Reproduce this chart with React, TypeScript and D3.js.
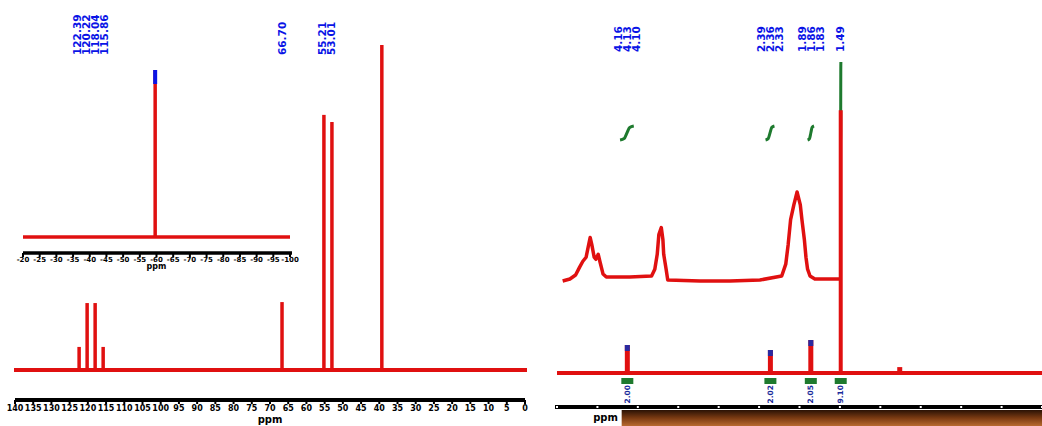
import React from 'react';
import * as d3 from 'd3';

const W = 1042;
const H = 426;

// ---- Left panel: 13C spectrum (ppm, relative intensity) ----
const cPeaks = [
  { ppm: 122.4, h: 7.1 },
  { ppm: 120.2, h: 20.6 },
  { ppm: 118.0, h: 20.6 },
  { ppm: 115.8, h: 7.1 },
  { ppm: 66.7, h: 20.9 },
  { ppm: 55.2, h: 78.5 },
  { ppm: 53.0, h: 76.3 },
  { ppm: 39.3, h: 100 },
];
const cLabels = [
  { group: 119.1, texts: ['122.39', '120.22', '118.04', '115.86'] },
  { group: 66.7, texts: ['66.70'] },
  { group: 54.4, texts: ['55.21', '53.01'] },
];
const cTicks = d3.range(140, -0.1, -5);

// ---- Left inset: 19F spectrum ----
const fPeaks = [{ ppm: -59.6, h: 100 }];
const fTicks = d3.range(-20, -100.1, -5);

// ---- Right panel: 1H spectrum ----
const hPeaks = [
  { ppm: 4.13, h: 9 },
  { ppm: 2.36, h: 7.4 },
  { ppm: 1.86, h: 10.6 },
  { ppm: 1.49, h: 84.5 },
  { ppm: 0.76, h: 1.9 },
];
const hMarked = [4.13, 2.36, 1.86];
const hLabels = [
  { group: 4.13, texts: ['4.16', '4.13', '4.10'] },
  { group: 2.36, texts: ['2.39', '2.36', '2.33'] },
  { group: 1.86, texts: ['1.89', '1.86', '1.83'] },
  { group: 1.49, texts: ['1.49'] },
];
const hIntegrals = [
  { from: 4.22, to: 4.05, value: 2.0, height: 14 },
  { from: 2.42, to: 2.31, value: 2.0, height: 14 },
  { from: 1.90, to: 1.82, value: 2.0, height: 14 },
  { from: 1.492, to: 1.488, value: 9.0, height: 78 },
];
const hIntLabels = [
  { ppm: 4.13, text: '2.00' },
  { ppm: 2.36, text: '2.02' },
  { ppm: 1.86, text: '2.05' },
  { ppm: 1.49, text: '9.10' },
];
const hTicks = d3.range(5, -1.01, -0.5);

// expanded trace (ppm, intensity)
const hExpPpm = [4.93, 4.84, 4.77, 4.72, 4.68, 4.64, 4.62, 4.59, 4.57, 4.54, 4.52, 4.49, 4.47, 4.43, 4.39, 4.1,
  3.83, 3.79, 3.76, 3.74, 3.71, 3.69, 3.68, 3.65, 3.63, 3.23, 2.86, 2.49, 2.22, 2.17, 2.14, 2.11, 2.07, 2.03,
  1.99, 1.97, 1.94, 1.92, 1.9, 1.87, 1.81, 1.5];
const hExpInt = [0, 2.2, 6.7, 15.6, 22.2, 26.7, 35.6, 48.9, 41.1, 26.7, 24.4, 30, 22.2, 7.8, 4.4, 4.4,
  5.6, 13.3, 30, 52.2, 60, 46.7, 30, 13.3, 1.1, 0, 0, 1.1, 5.6, 18.9, 41.1, 68.9, 85.6, 100,
  85.6, 68.9, 46.7, 26.7, 13.3, 5.6, 2.2, 2.2];

const RED = '#e01010';
const BLUE = '#0a14e6';
const GREEN = '#1e7a2e';
const FONT = 'DejaVu Sans, sans-serif';

export default function App() {
  // scales
  const xC = d3.scaleLinear().domain([140, 0]).range([15, 525]);
  const yC = d3.scaleLinear().domain([0, 100]).range([370, 45]);
  const xF = d3.scaleLinear().domain([-20, -100]).range([23, 290]);
  const yF = d3.scaleLinear().domain([0, 100]).range([237, 70]);
  const xH = d3.scaleLinear().domain([5, -1]).range([557, 1042]);
  const yH = d3.scaleLinear().domain([0, 100]).range([373, 62]);
  const yE = d3.scaleLinear().domain([0, 100]).range([281, 192]);

  const expLine = d3.line<number>()
    .x((_, i) => xH(hExpPpm[i]))
    .y((d) => yE(d));

  const intPath = (it: typeof hIntegrals[0]) => {
    const base = 140;
    const pts: [number, number][] = [
      [xH(it.from), base],
      [xH(it.from + (it.to - it.from) * 0.3), base - it.height * 0.1],
      [xH(it.from + (it.to - it.from) * 0.5), base - it.height * 0.5],
      [xH(it.from + (it.to - it.from) * 0.7), base - it.height * 0.9],
      [xH(it.to), base - it.height],
    ];
    return d3.line().curve(d3.curveMonotoneX)(pts) || '';
  };

  const labelEls = (
    groups: { group: number; texts: string[] }[],
    scale: d3.ScaleLinear<number, number>,
    yBottom: number,
    fs: number,
  ) =>
    groups.flatMap((g, gi) =>
      g.texts.map((t, i) => {
        const x = scale(g.group) + (i - (g.texts.length - 1) / 2) * 9;
        return (
          <text
            key={`${gi}-${i}`}
            transform={`translate(${x},${yBottom}) rotate(-90)`}
            dy="0.35em"
            fontSize={fs}
            fontWeight="bold"
            fill={BLUE}
            fontFamily={FONT}
          >
            {t}
          </text>
        );
      }),
    );

  return (
    <svg width={W} height={H} style={{ position: 'absolute', left: 0, top: 0, background: '#fff' }}>
      <defs>
        <linearGradient id="brown" x1="0" y1="0" x2="0" y2="1">
          <stop offset="0" stopColor="#2a1205" />
          <stop offset="0.5" stopColor="#7a3a12" />
          <stop offset="1" stopColor="#b86a30" />
        </linearGradient>
      </defs>
      <rect width={W} height={H} fill="#fff" />

      {/* ===== LEFT PANEL ===== */}
      {labelEls(cLabels, xC, 55, 10.5)}

      {/* inset 19F */}
      <line x1={xF.range()[0]} x2={xF.range()[1]} y1={yF(0)} y2={yF(0)} stroke={RED} strokeWidth={3.5} />
      {fPeaks.map((p, i) => (
        <g key={i}>
          <line x1={xF(p.ppm)} x2={xF(p.ppm)} y1={yF(0)} y2={yF(p.h)} stroke={RED} strokeWidth={3.5} />
          <line x1={xF(p.ppm)} x2={xF(p.ppm)} y1={yF(p.h)} y2={yF(p.h) + 14} stroke={BLUE} strokeWidth={4} />
        </g>
      ))}
      <line x1={xF.range()[0]} x2={xF.range()[1] + 2} y1={253} y2={253} stroke="#000" strokeWidth={3.5} />
      {fTicks.map((t) => (
        <g key={t}>
          <line x1={xF(t)} x2={xF(t)} y1={253} y2={257} stroke="#000" strokeWidth={2} />
          <text x={xF(t)} y={262} textAnchor="middle" fontSize={7} fontWeight="bold" fontFamily={FONT}>
            {t}
          </text>
        </g>
      ))}
      <text x={xF(-60)} y={269} textAnchor="middle" fontSize={8} fontWeight="bold" fontFamily={FONT}>ppm</text>

      {/* main 13C */}
      <line x1={xC.range()[0] - 1} x2={xC.range()[1] + 2} y1={yC(0)} y2={yC(0)} stroke={RED} strokeWidth={4} />
      {cPeaks.map((p, i) => (
        <line key={i} x1={xC(p.ppm)} x2={xC(p.ppm)} y1={yC(0)} y2={yC(p.h)} stroke={RED} strokeWidth={3.5} />
      ))}
      <line x1={xC.range()[0]} x2={xC.range()[1]} y1={400} y2={400} stroke="#000" strokeWidth={4} />
      {cTicks.map((t) => (
        <g key={t}>
          <line x1={xC(t)} x2={xC(t)} y1={400} y2={404} stroke="#000" strokeWidth={2} />
          <text x={xC(t)} y={411} textAnchor="middle" fontSize={8} fontWeight="bold" fontFamily={FONT}>
            {t}
          </text>
        </g>
      ))}
      <text x={xC(70)} y={423} textAnchor="middle" fontSize={10} fontWeight="bold" fontFamily={FONT}>ppm</text>

      {/* ===== RIGHT PANEL ===== */}
      {labelEls(hLabels, xH, 52, 10.5)}

      {/* integral curves */}
      {hIntegrals.map((it, i) => (
        <path key={i} d={intPath(it)} fill="none" stroke={GREEN} strokeWidth={3} />
      ))}

      {/* expanded trace */}
      <path d={expLine(hExpInt) || ''} fill="none" stroke={RED} strokeWidth={3.5} strokeLinejoin="round" />

      {/* main 1H */}
      <line x1={xH.range()[0]} x2={xH.range()[1]} y1={yH(0)} y2={yH(0)} stroke={RED} strokeWidth={4} />
      {hPeaks.map((p, i) => (
        <line key={i} x1={xH(p.ppm)} x2={xH(p.ppm)} y1={yH(0)} y2={yH(p.h)} stroke={RED}
          strokeWidth={p.h > 50 ? 4 : 5} />
      ))}
      {hMarked.map((ppm, i) => {
        const pk = hPeaks.find((p) => p.ppm === ppm)!;
        return (
          <line key={i} x1={xH(ppm)} x2={xH(ppm)} y1={yH(pk.h)} y2={yH(pk.h) + 6} stroke="#2a2aa0" strokeWidth={5} />
        );
      })}

      {/* integral labels below baseline */}
      {hIntLabels.map((l, i) => (
        <g key={i}>
          <line x1={xH(l.ppm) - 6} x2={xH(l.ppm) + 6} y1={381} y2={381} stroke={GREEN} strokeWidth={6} />
          <text transform={`translate(${xH(l.ppm)},385) rotate(-90)`} dy="0.35em" textAnchor="end"
            fontSize={7.5} fontWeight="bold" fill="#1a2a9a" fontFamily={FONT}>
            {l.text}
          </text>
        </g>
      ))}

      {/* axis */}
      <rect x={xH(4.2)} y={410} width={W - xH(4.2)} height={16} fill="url(#brown)" />
      <line x1={xH.range()[0] - 2} x2={xH.range()[1]} y1={407} y2={407} stroke="#000" strokeWidth={4} />
      {hTicks.map((t) => (
        <g key={t}>
          <line x1={xH(t)} x2={xH(t)} y1={406} y2={408} stroke="#fff" strokeWidth={2} />
        </g>
      ))}
      <text x={xH(4.4)} y={421} textAnchor="middle" fontSize={10} fontWeight="bold" fontFamily={FONT}>ppm</text>
    </svg>
  );
}
